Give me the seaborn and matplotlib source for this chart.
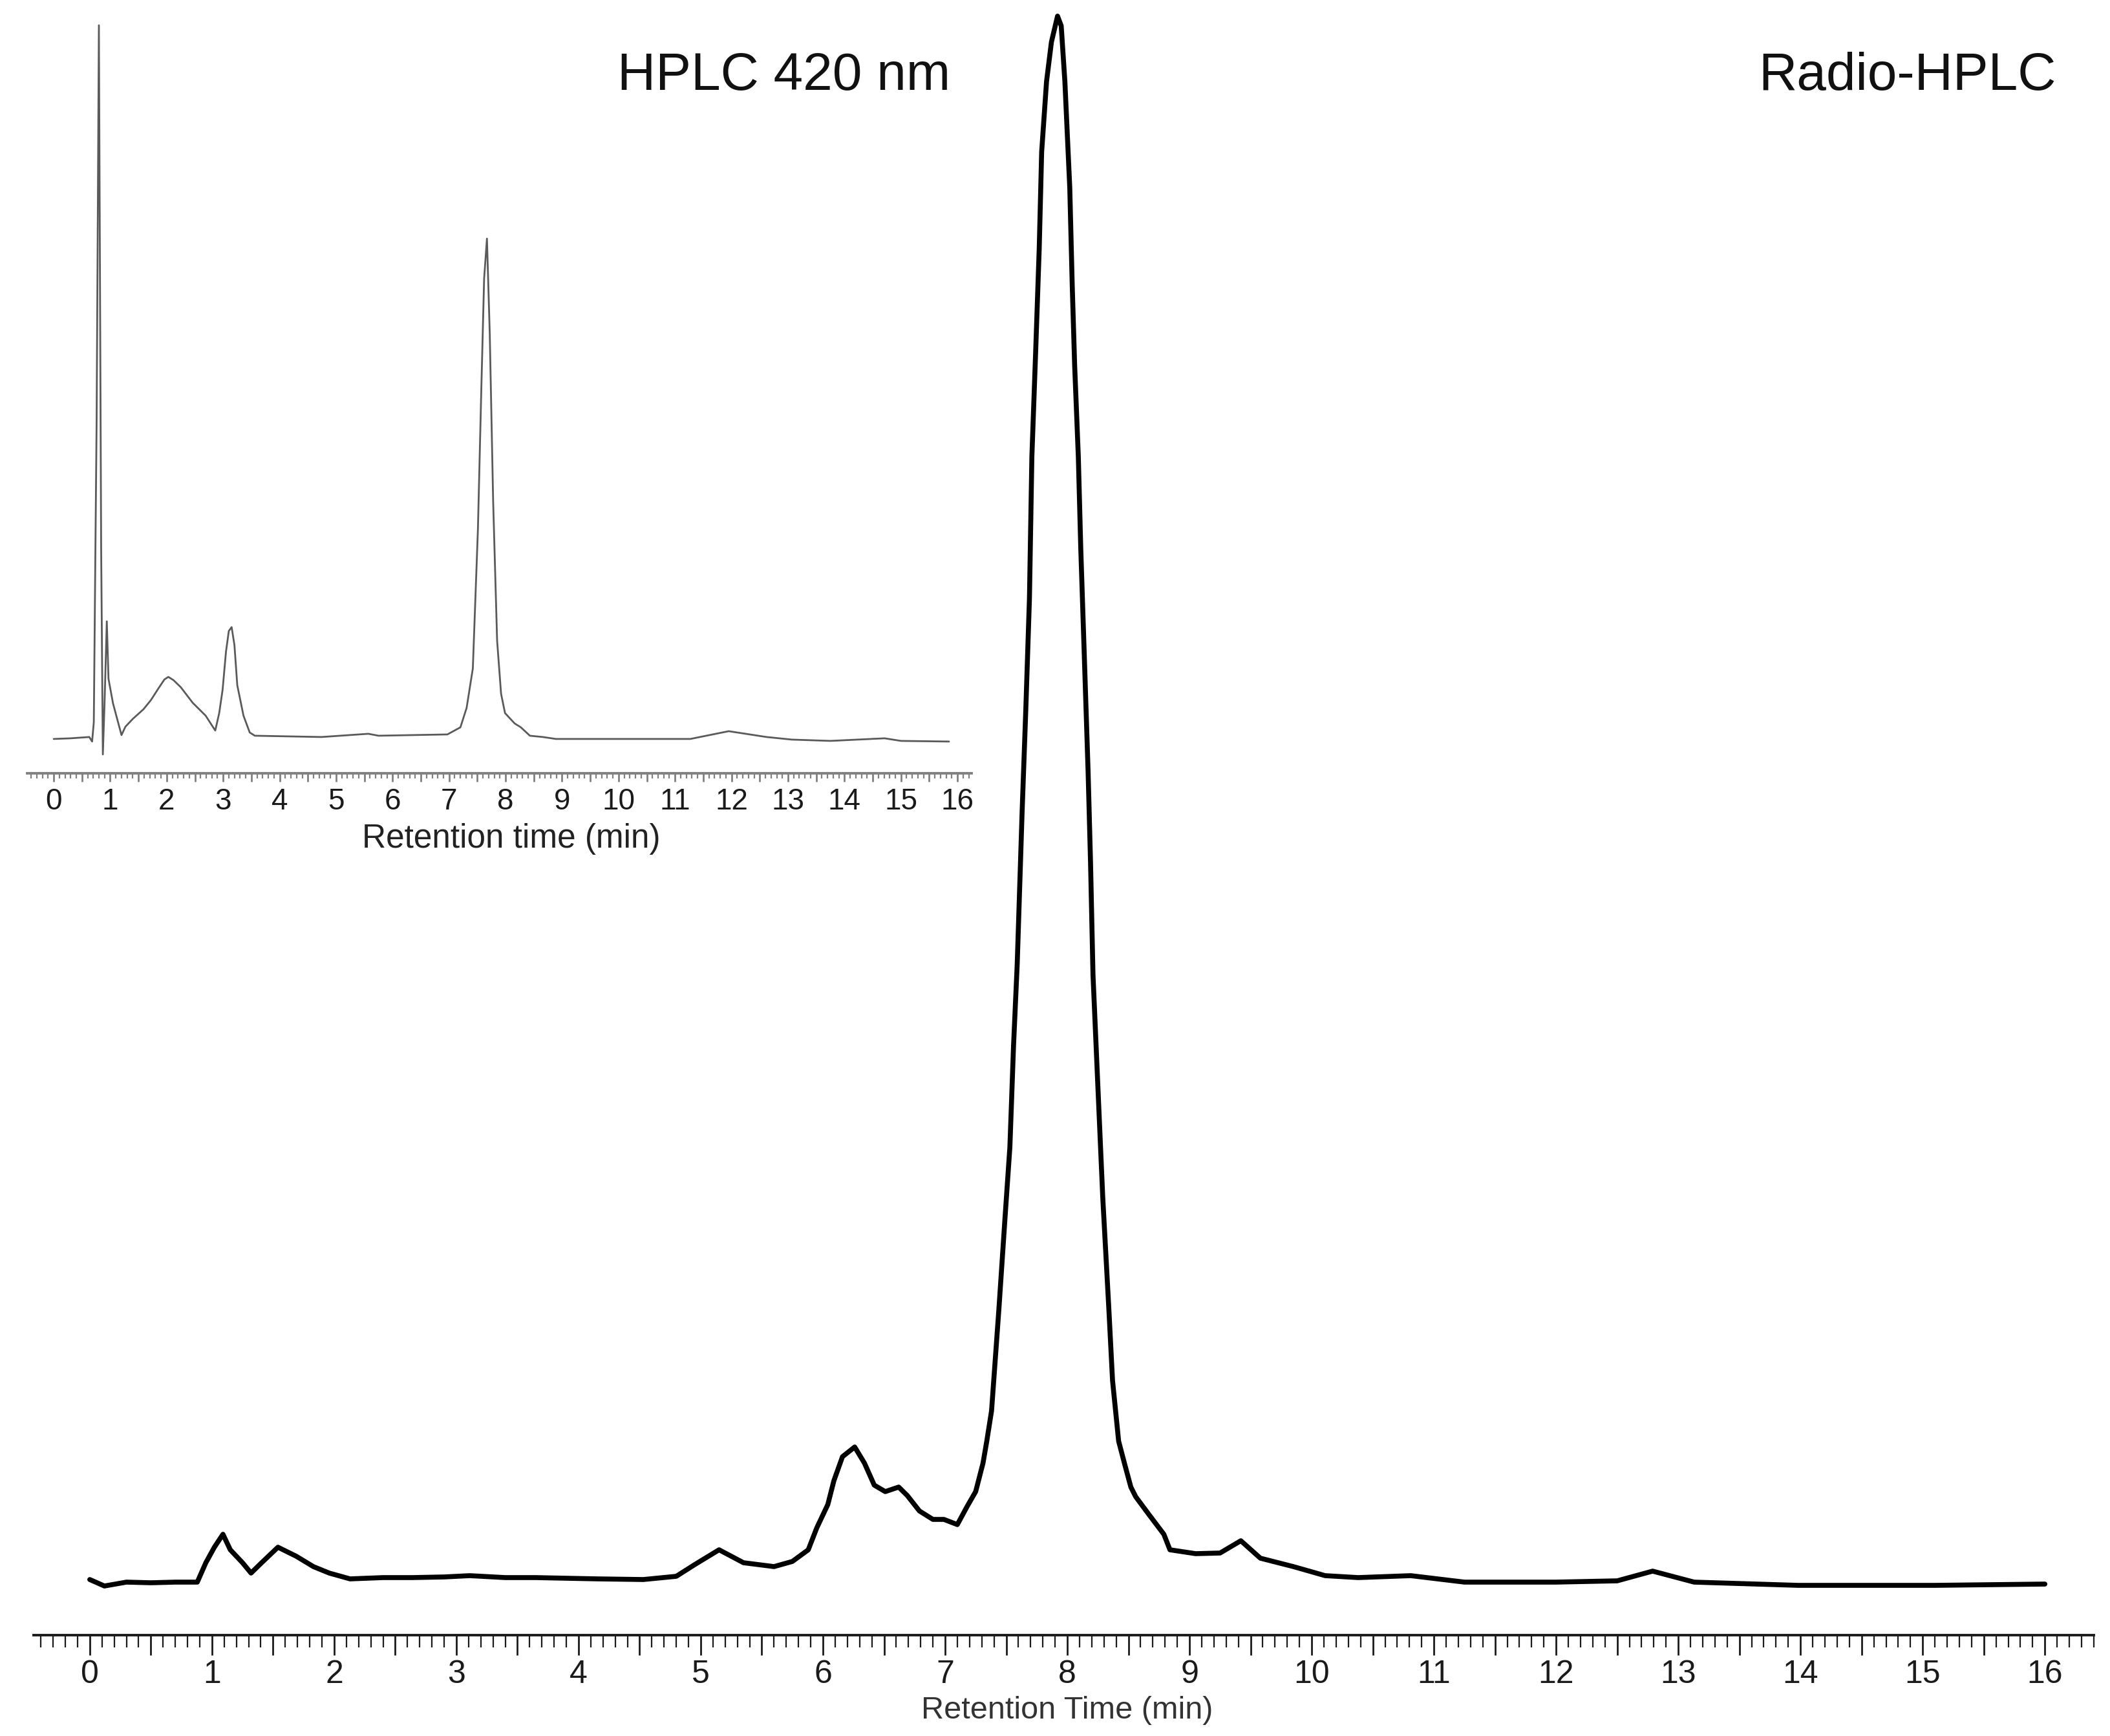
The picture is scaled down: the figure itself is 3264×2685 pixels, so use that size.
import matplotlib
matplotlib.use("Agg")
import matplotlib.pyplot as plt
import numpy as np
import pandas as pd
import seaborn as sns
from matplotlib.ticker import MultipleLocator, FuncFormatter

# ── data (time in min, signal in arbitrary units) ──

radio_time = [
    0.00, 0.12, 0.30, 0.50, 0.70, 0.88, 0.95, 1.02, 1.09, 1.15, 1.25, 1.32,
    1.39, 1.54, 1.69, 1.83, 1.96, 2.13, 2.40, 2.64, 2.90, 3.11, 3.40, 3.65,
    3.90, 4.16, 4.53, 4.80, 4.95, 5.15, 5.35, 5.60, 5.75, 5.88, 5.95, 6.04,
    6.09, 6.16, 6.26, 6.34, 6.42, 6.51, 6.62, 6.69, 6.79, 6.90, 6.99, 7.10,
    7.18, 7.25, 7.31, 7.34, 7.38, 7.44, 7.49, 7.53, 7.56, 7.59, 7.63, 7.66,
    7.69, 7.71, 7.74, 7.77, 7.79, 7.83, 7.87, 7.92, 7.95, 7.98, 8.02, 8.04,
    8.06, 8.09, 8.11, 8.14, 8.17, 8.19, 8.21, 8.25, 8.29, 8.34, 8.37, 8.42,
    8.47, 8.52, 8.56, 8.67, 8.79, 8.84, 9.05, 9.25, 9.42, 9.58, 9.85, 10.11,
    10.38, 10.81, 11.25, 12.00, 12.50, 12.79, 13.13, 13.98, 15.10, 16.00,
]
radio_signal = [
    17, 7, 13, 12, 13, 13, 43, 67, 87, 63, 43, 27,
    40, 67, 53, 37, 27, 18, 20, 20, 21, 23, 20, 20,
    19, 18, 17, 22, 40, 63, 43, 37, 45, 63, 97, 133,
    170, 207, 222, 197, 163, 153, 160, 147, 123, 110, 110, 102,
    130, 153, 197, 230, 278, 435, 576, 686, 843, 969, 1204, 1361,
    1534, 1754, 1911, 2075, 2225, 2334, 2395, 2435, 2420, 2334, 2170, 2020,
    1895, 1754, 1612, 1440, 1267, 1126, 953, 780, 608, 435, 325, 231,
    195, 160, 145, 117, 87, 63, 57, 58, 77, 50, 37, 23,
    20, 23, 13, 13, 15, 30, 13, 8, 8, 10,
]

uv_time = [
    0.00, 0.30, 0.63, 0.68, 0.71, 0.76, 0.80, 0.84, 0.87, 0.90, 0.94, 0.97,
    1.05, 1.20, 1.27, 1.40, 1.59, 1.72, 1.86, 1.96, 2.03, 2.12, 2.25, 2.46,
    2.69, 2.86, 2.93, 2.99, 3.05, 3.10, 3.15, 3.20, 3.25, 3.36, 3.47, 3.56,
    4.74, 5.57, 5.75, 6.97, 7.20, 7.31, 7.42, 7.51, 7.57, 7.62, 7.67, 7.72,
    7.78, 7.85, 7.92, 7.99, 8.16, 8.27, 8.43, 8.66, 8.89, 11.27, 11.95, 12.62,
    13.07, 13.75, 14.71, 15.00, 15.85,
]
uv_signal = [
    5, 6, 8, 1, 31, 500, 1109, 300, -19, 60, 187, 98,
    60, 11, 24, 36, 51, 65, 84, 97, 101, 96, 85, 61,
    41, 18, 45, 81, 140, 172, 178, 150, 88, 41, 15, 10,
    8, 13, 10, 12, 23, 53, 114, 329, 545, 717, 779, 631,
    372, 157, 75, 45, 29, 23, 10, 8, 5, 5, 17, 8,
    4, 2, 6, 2, 1,
]

TEXT_FONT = ["Liberation Sans", "DejaVu Sans"]


def style_time_axis(ax, xlim, ylim, tick_len, label_size, axis_color, pad):
    """Chromatogram style: only a bottom time axis with 0.1 min minor ticks."""
    ax.set_xlim(*xlim)
    ax.set_ylim(*ylim)
    ax.set_yticks([])
    ax.set_ylabel("")
    for side in ("left", "top", "right"):
        ax.spines[side].set_visible(False)
    ax.spines["bottom"].set_color(axis_color)
    ax.spines["bottom"].set_linewidth(2.8)
    ax.patch.set_alpha(0)

    ax.xaxis.set_major_locator(MultipleLocator(0.5))
    ax.xaxis.set_minor_locator(MultipleLocator(0.1))
    ax.xaxis.set_major_formatter(
        FuncFormatter(lambda v, _: f"{int(round(v))}" if abs(v - round(v)) < 1e-6 and 0 <= v <= 16 else "")
    )
    major, half, minor = tick_len
    ax.tick_params(axis="x", which="both", bottom=True, top=False)
    ax.tick_params(axis="x", which="major", length=major, width=2.0, color=axis_color,
                   labelsize=label_size, labelcolor="#1a1a1a", pad=pad, direction="out")
    ax.tick_params(axis="x", which="minor", length=minor, width=1.6, color=axis_color,
                   direction="out")
    for tick in ax.xaxis.get_major_ticks():
        v = tick.get_loc()
        if abs(v - round(v)) > 1e-6:
            tick.tick1line.set_markersize(half)
    for lbl in ax.get_xticklabels():
        lbl.set_fontfamily(TEXT_FONT)


sns.set_theme(style="white")
plt.rcParams["font.family"] = TEXT_FONT
plt.rcParams["xtick.bottom"] = True
plt.rcParams["xtick.minor.visible"] = True

fig = plt.figure(figsize=(32.64, 26.85), dpi=100)
fig.patch.set_facecolor("white")

# ── main radio-HPLC trace ─────────────────────────────────────────────────────
radio_df = pd.DataFrame({"time": radio_time, "signal": radio_signal})
ax = fig.add_axes([0.0159, 0.0581, 0.9764, 0.9382])
sns.lineplot(data=radio_df, x="time", y="signal", ax=ax, estimator=None,
             color="black", linewidth=5.5)
style_time_axis(ax, (-0.46, 16.40), (-69, 2450), (22, 19, 13.5), 36, "#1a1a1a", 5.5)
ax.set_xlabel("Retention Time (min)", fontsize=35, color="#333333")
ax.xaxis.label.set_va("center")
ax.xaxis.set_label_coords(0.5018, -0.0464)

# ── inset: HPLC 420 nm trace ─────────────────────────────────────────────────
uv_df = pd.DataFrame({"time": uv_time, "signal": uv_signal})
ins = fig.add_axes([0.01287, 0.5546, 0.4476, 0.4342])
sns.lineplot(data=uv_df, x="time", y="signal", ax=ins, estimator=None,
             color="#5a5a5a", linewidth=2.0)
style_time_axis(ins, (-0.47, 16.25), (-48, 1118), (9, 7, 5.5), 33, "#808080", 7)
ins.set_xlabel("Retention time (min)", fontsize=37, color="#222222")
ins.xaxis.label.set_va("center")
ins.xaxis.set_label_coords(0.5126, -0.0868)

fig.text(0.4504, 0.9482, "HPLC 420 nm", ha="right", va="baseline",
         fontsize=59, color="#111111", family=TEXT_FONT)
fig.text(0.9746, 0.9482, "Radio-HPLC", ha="right", va="baseline",
         fontsize=59, color="#111111", family=TEXT_FONT)

fig.savefig("out.png", dpi=100, facecolor="white")
plt.close(fig)
